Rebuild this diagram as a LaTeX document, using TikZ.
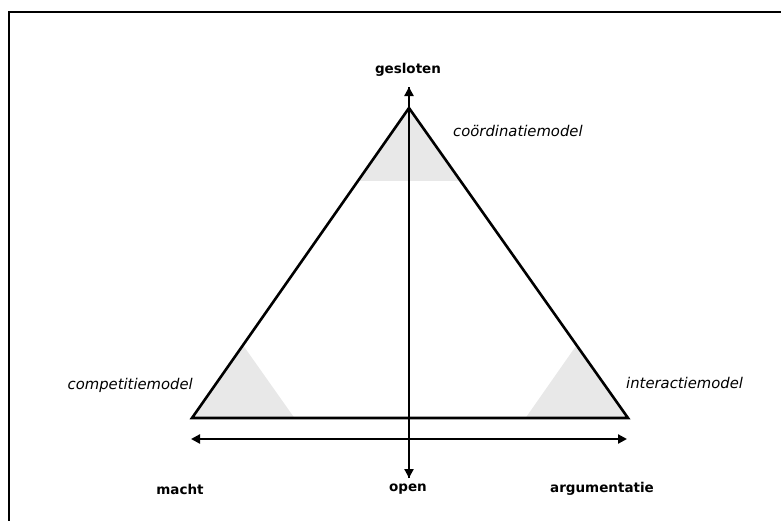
\documentclass[tikz,border=0pt]{standalone}
\usepackage{fontspec}
\setmainfont{DejaVu Sans}
\usetikzlibrary{arrows.meta,calc}
\tikzset{
  axislabel/.style={font=\fontsize{13.5}{15}\selectfont\bfseries, inner sep=0pt},
  modellabel/.style={font=\fontsize{14.8}{16}\selectfont\itshape, inner sep=0pt},
  tri/.style={line width=2.6pt, line join=miter},
  axis/.style={line width=2.2pt, -{Triangle[length=9pt,width=9pt]}},
  biaxis/.style={line width=2.2pt, {Triangle[length=9pt,width=9pt]}-{Triangle[length=9pt,width=9pt]}},
  shade/.style={fill=black!9, draw=none},
  frame/.style={line width=2pt}
}
\begin{document}
\begin{tikzpicture}[x=1pt,y=-1pt]
\useasboundingbox (0,0) rectangle (781,520);
\draw[frame] (8.5,530) -- (8.5,12) -- (790,12);
% triangle corners
\coordinate (A) at (409,108);
\coordinate (L) at (192,418);
\coordinate (R) at (628,418);
\def\f{0.235}
% shaded corners
\fill[shade] (A) -- ($(A)!\f!(L)$) -- ($(A)!\f!(R)$) -- cycle;
\fill[shade] (L) -- ($(L)!\f!(A)$) -- ($(L)!\f!(R)$) -- cycle;
\fill[shade] (R) -- ($(R)!\f!(A)$) -- ($(R)!\f!(L)$) -- cycle;
\draw[tri] (A) -- (L) -- (R) -- cycle;
% axes
\coordinate (vtop) at (409,87);
\coordinate (vbot) at (409,478);
\coordinate (hl) at (191,439);
\coordinate (hr) at (627,439);
\draw[axis] (vbot) -- (vtop);
\draw[axis] (vtop) -- (vbot);
\draw[biaxis] (hl) -- (hr);
% labels
\node[axislabel] (gesloten) at (408,70) {gesloten};
\node[axislabel] (open) at (408,489) {open};
\node[axislabel] (macht) at (180,489) {macht};
\node[axislabel] (argumentatie) at (602,489) {argumentatie};
\node[modellabel, anchor=west] (coord) at (453,131) {coördinatiemodel};
\node[modellabel, anchor=east] (comp) at (193,385) {competitiemodel};
\node[modellabel, anchor=west] (inter) at (626,383) {interactiemodel};
\end{tikzpicture}
\end{document}
